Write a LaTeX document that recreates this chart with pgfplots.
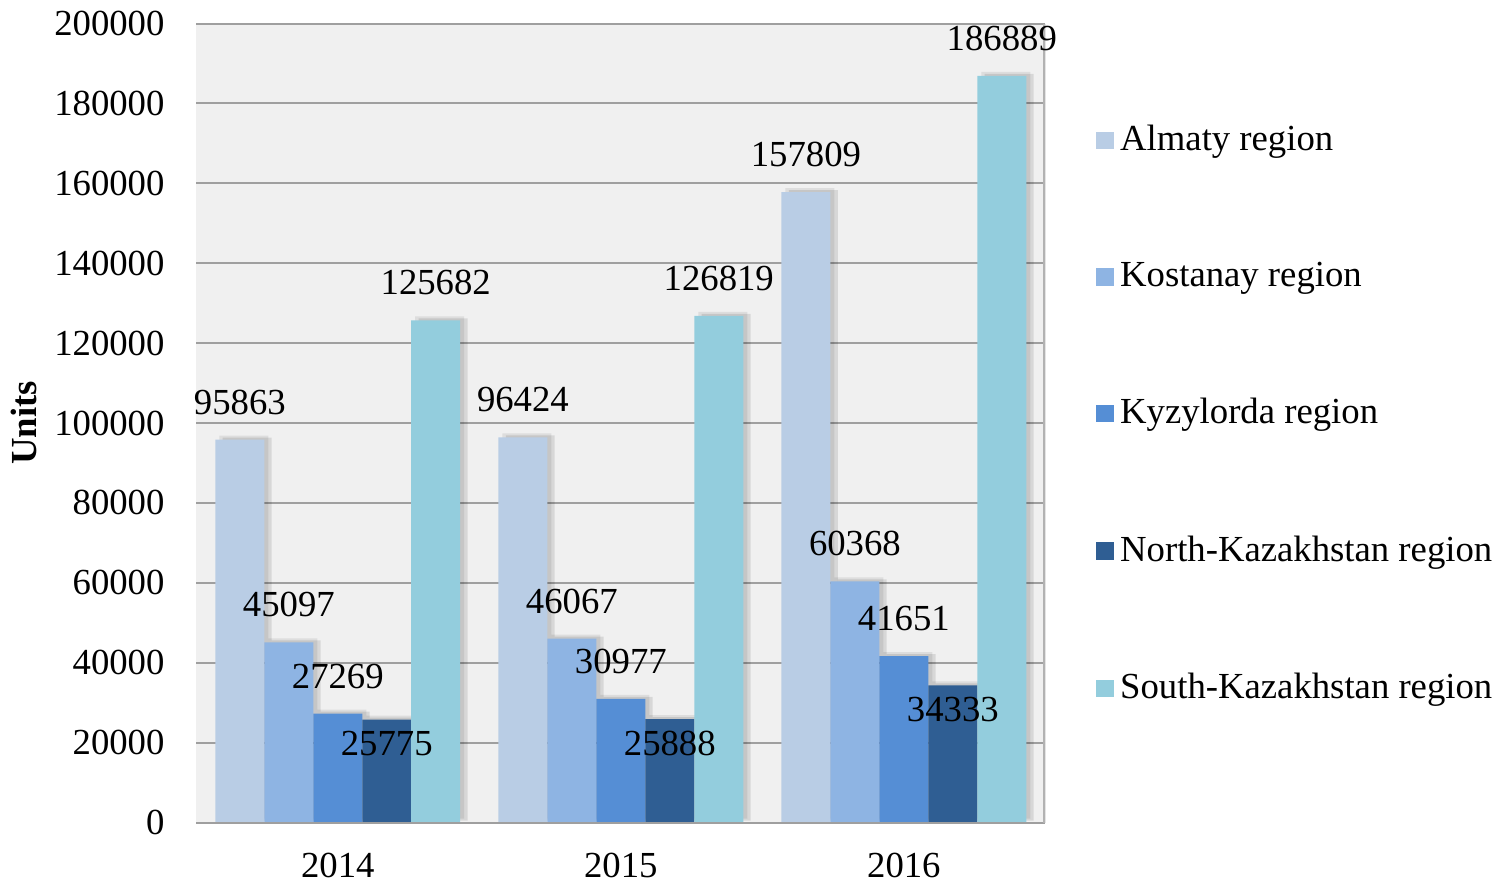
\documentclass[border=0pt]{standalone}
\usepackage{fontspec}
\setmainfont{Liberation Serif}
\usepackage{pgfplots}
\pgfplotsset{compat=1.18}
\definecolor{cA}{HTML}{B9CDE5}
\definecolor{cB}{HTML}{8EB4E3}
\definecolor{cC}{HTML}{558ED5}
\definecolor{cD}{HTML}{2F5E93}
\definecolor{cE}{HTML}{93CDDD}
\definecolor{bgc}{HTML}{F0F0F0}
\pgfplotsset{
  mybar/.style={fill=#1, draw=none,
    preaction={fill=black, fill opacity=0.10, transform canvas={xshift=2.2pt, yshift=0.6pt}},
    preaction={fill=black, fill opacity=0.08, transform canvas={xshift=1.2pt, yshift=1.2pt}},
    legend image code/.code={\pgfsetfillcolor{#1}\pgfpathrectangle{\pgfpoint{0pt}{-2.6pt}}{\pgfpoint{5.2pt}{5.2pt}}\pgfusepath{fill}}},
}
\begin{document}
\begin{tikzpicture}[font=\fontsize{11}{13}\selectfont]
\begin{axis}[
  scale only axis, width=254.4pt, height=239.4pt,
  ybar=0pt, bar width=0.173,
  xmin=-0.5, xmax=2.5, ymin=0, ymax=200000,
  xtick={0,1,2}, xticklabels={2014,2015,2016},
  ytick={0,20000,...,200000},
  scaled y ticks=false,
  /pgf/number format/assume math mode=true,
  yticklabel style={/pgf/number format/fixed, /pgf/number format/1000 sep={}, xshift=-6pt},
  xticklabel style={yshift=-5.5pt},
  major tick length=0pt,
  ymajorgrids, grid style={draw=gray!75, line width=0.6pt},
  axis line style={draw=none},
  axis background/.style={fill=bgc},
  ylabel={\textbf{Units}},
  ylabel style={at={(axis description cs:0,0.5)}, anchor=center, yshift=51.6pt},
  nodes near coords,
  nodes near coords style={font=\fontsize{11}{13}\selectfont, anchor=south, yshift=4pt,
     /pgf/number format/fixed, /pgf/number format/1000 sep={}, /pgf/number format/assume math mode=true},
  legend style={draw=none, fill=none, inner sep=0pt, at={(axis description cs:1,1)}, anchor=north west,
     xshift=15pt, yshift=-28.2pt, row sep=28pt, cells={anchor=west},
     font=\fontsize{11}{13}\selectfont},
]
\addplot[mybar=cA] coordinates {(0,95863) (1,96424) (2,157809)};
\addplot[mybar=cB] coordinates {(0,45097) (1,46067) (2,60368)};
\addplot[mybar=cC] coordinates {(0,27269) (1,30977) (2,41651)};
\addplot[mybar=cD, nodes near coords style={anchor=north, yshift=-4pt}] coordinates {(0,25775) (1,25888) (2,34333)};
\addplot[mybar=cE] coordinates {(0,125682) (1,126819) (2,186889)};
\legend{Almaty region, Kostanay region, Kyzylorda region, North-Kazakhstan region, South-Kazakhstan region}
\draw[gray!75, line width=0.6pt] (rel axis cs:0,0) -- (rel axis cs:1,0);
\draw[gray!60, line width=1.2pt] (rel axis cs:1,0) -- (rel axis cs:1,1);
\end{axis}
\end{tikzpicture}
\end{document}
